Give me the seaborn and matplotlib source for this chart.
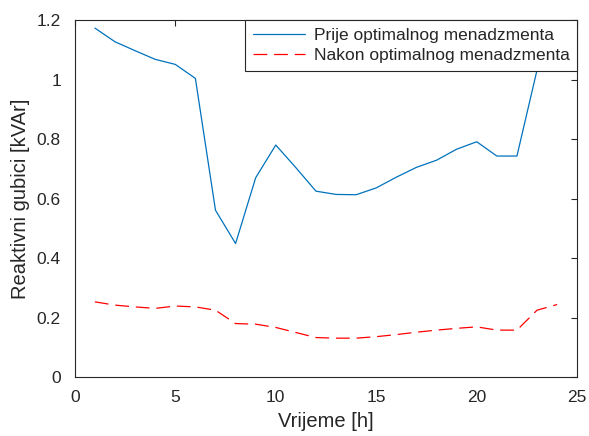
import numpy as np
import pandas as pd
import seaborn as sns
import matplotlib.pyplot as plt

sns.set_style("white")
plt.rcParams['font.family'] = ['Liberation Sans', 'DejaVu Sans']

sati = list(range(1, 25))
prije = [1.173, 1.127, 1.097, 1.068, 1.051, 1.004, 0.561, 0.449, 0.670, 0.780,
         0.704, 0.625, 0.614, 0.613, 0.636, 0.672, 0.705, 0.729, 0.766, 0.791,
         0.743, 0.743, 1.032, 1.150]
nakon = [0.253, 0.242, 0.236, 0.231, 0.239, 0.236, 0.225, 0.180, 0.178, 0.167,
         0.150, 0.133, 0.131, 0.131, 0.136, 0.143, 0.151, 0.158, 0.164, 0.169,
         0.158, 0.158, 0.225, 0.244]
oznake = ['Prije optimalnog menadzmenta', 'Nakon optimalnog menadzmenta']

df = pd.DataFrame({'h': sati, 'prije': prije, 'nakon': nakon})

fig = plt.figure(figsize=(5.89, 4.36), dpi=100)
ax = fig.add_axes([0.127, 0.135, 0.853, 0.819])

sns.lineplot(data=df, x='h', y='prije', ax=ax, color='#0072BD', lw=0.9, label=oznake[0])
sns.lineplot(data=df, x='h', y='nakon', ax=ax, color='red', lw=0.9,
             linestyle=(0, (11, 5.5)), label=oznake[1])

ax.set_xlim(0, 25)
ax.set_ylim(0, 1.2)
ax.set_xticks([0, 5, 10, 15, 20, 25])
ax.set_yticks([0, 0.2, 0.4, 0.6, 0.8, 1.0, 1.2])
ax.set_yticklabels(['0', '0.2', '0.4', '0.6', '0.8', '1', '1.2'])
ax.set_xlabel('Vrijeme [h]', fontsize=14.5, color='#262626', labelpad=5)
ax.set_ylabel('Reaktivni gubici [kVAr]', fontsize=14.5, color='#262626', labelpad=5)
ax.tick_params(direction='in', length=4, width=0.8, top=True, right=True,
               labelsize=12.5, colors='#262626')
ax.tick_params(axis='x', pad=9)
ax.tick_params(axis='y', pad=10)
for s in ax.spines.values():
    s.set_color('#262626')
    s.set_linewidth(0.8)

leg = ax.legend(loc='upper right', borderaxespad=0, fontsize=12.5, frameon=True,
                fancybox=False, framealpha=1, edgecolor='#262626',
                handlelength=3.0, handletextpad=0.5, borderpad=0.45, labelspacing=0.3)
leg.get_frame().set_linewidth(0.8)

fig.savefig('out.png', dpi=100)
